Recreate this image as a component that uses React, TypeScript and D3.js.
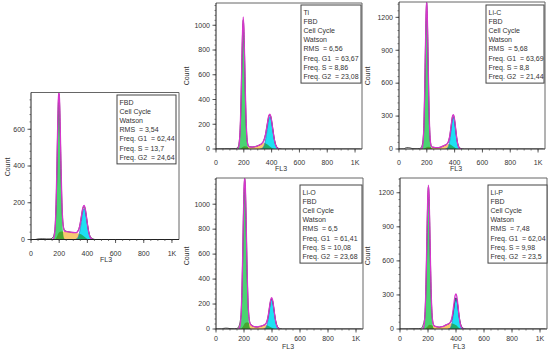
import React from 'react';
import * as d3 from 'd3';

type Pt = [number, number];

// x axis (FL3 channel)
const xTicks = [0, 200, 400, 600, 800, 1000];
const xTickLabels = ['0', '200', '400', '600', '800', '1K'];

// ---- FBD (left) ----
const g1Fbd: Pt[] = [[154, 0], [162, 8], [168, 33], [173, 88], [178, 192], [183, 352], [188, 544], [193, 706], [198, 770], [203, 706], [208, 544], [213, 352], [218, 192], [223, 88], [228, 33], [234, 8], [242, 0]];
const sFbd: Pt[] = [[172, 0], [185, 18], [198, 38], [215, 44], [240, 44], [270, 41], [300, 38], [330, 34], [355, 28], [377, 17], [395, 6], [410, 0]];
const g2Fbd: Pt[] = [[317, 1], [327, 5], [337, 18], [345, 41], [353, 76], [361, 118], [369, 154], [377, 168], [385, 154], [393, 118], [401, 76], [409, 41], [417, 18], [427, 5], [440, 0]];
const fitFbd: Pt[] = [[154, 0], [162, 9], [168, 33], [173, 88], [178, 198], [183, 365], [188, 567], [193, 737], [198, 815], [203, 746], [208, 585], [213, 395], [218, 236], [223, 132], [228, 77], [234, 52], [242, 44], [260, 42], [280, 40], [300, 38], [320, 37], [337, 51], [345, 72], [353, 106], [361, 144], [369, 176], [377, 185], [385, 167], [393, 126], [401, 80], [409, 42], [417, 18], [427, 5], [440, 0]];
const rawFbd: Pt[] = [[0, 0], [30, 0], [50, 3], [80, 4], [110, 3], [135, 3], [148, 6], [158, 14], [165, 32], [172, 80], [178, 190], [183, 350], [188, 552], [193, 722], [198, 792], [203, 735], [208, 575], [213, 385], [218, 230], [223, 128], [230, 70], [240, 48], [260, 43], [280, 40], [300, 38], [320, 38], [337, 52], [345, 72], [353, 104], [361, 142], [369, 172], [377, 180], [385, 165], [393, 126], [401, 82], [409, 46], [417, 22], [427, 9], [440, 3], [455, 0], [1040, 0]];

// ---- Ti ----
const g1Ti: Pt[] = [[152, 0], [160, 8], [166, 34], [171, 97], [176, 227], [181, 440], [186, 706], [191, 937], [196, 1030], [201, 937], [206, 706], [211, 440], [216, 227], [221, 97], [226, 34], [232, 8], [240, 0]];
const sTi: Pt[] = [[175, 0], [190, 14], [205, 22], [230, 18], [260, 16], [290, 22], [320, 36], [345, 48], [365, 40], [385, 22], [405, 6], [420, 0]];
const g2Ti: Pt[] = [[318, 0], [328, 3], [338, 12], [348, 35], [356, 73], [364, 128], [372, 190], [380, 242], [388, 262], [396, 242], [404, 190], [412, 128], [420, 73], [428, 35], [438, 12], [448, 3], [458, 0]];
const fitTi: Pt[] = [[152, 0], [160, 8], [166, 34], [171, 97], [176, 228], [181, 441], [186, 715], [191, 949], [196, 1068], [201, 955], [206, 728], [211, 461], [216, 248], [221, 117], [226, 54], [232, 27], [240, 18], [260, 16], [290, 22], [318, 35], [328, 43], [338, 56], [348, 83], [356, 118], [364, 169], [372, 224], [380, 270], [388, 281], [396, 256], [404, 196], [412, 131], [420, 73], [428, 35], [438, 12], [448, 3], [458, 0]];
const rawTi: Pt[] = [[0, 0], [60, 2], [100, 2], [140, 3], [150, 6], [158, 14], [164, 36], [170, 95], [176, 225], [181, 440], [186, 710], [191, 945], [196, 1040], [201, 950], [206, 720], [211, 455], [216, 245], [221, 115], [226, 54], [232, 28], [240, 19], [260, 16], [290, 22], [318, 35], [328, 43], [338, 55], [348, 82], [356, 117], [364, 168], [372, 222], [380, 266], [388, 276], [396, 254], [404, 198], [412, 134], [420, 78], [428, 40], [438, 16], [448, 6], [460, 2], [475, 0], [1040, 0]];

// ---- Li-C ----
const g1LiC: Pt[] = [[155, 0], [163, 4], [169, 22], [174, 77], [179, 213], [184, 472], [189, 832], [194, 1170], [199, 1310], [204, 1170], [209, 832], [214, 472], [219, 213], [224, 77], [229, 22], [235, 4], [243, 0]];
const sLiC: Pt[] = [[178, 0], [192, 12], [210, 20], [240, 14], [270, 12], [300, 18], [330, 34], [355, 46], [375, 36], [395, 18], [412, 4], [425, 0]];
const g2LiC: Pt[] = [[333, 0], [341, 2], [351, 13], [359, 39], [367, 94], [373, 154], [379, 219], [385, 270], [391, 290], [397, 270], [403, 219], [409, 154], [415, 94], [423, 39], [431, 13], [441, 2], [449, 0]];
const fitLiC: Pt[] = [[155, 0], [163, 4], [169, 22], [174, 77], [179, 213], [184, 474], [189, 837], [194, 1180], [199, 1360], [204, 1188], [209, 851], [214, 491], [219, 232], [224, 95], [229, 39], [235, 20], [243, 17], [260, 13], [280, 13], [300, 18], [320, 28], [333, 37], [341, 42], [351, 57], [359, 84], [367, 136], [373, 194], [379, 253], [385, 301], [391, 314], [397, 290], [403, 235], [409, 166], [415, 101], [423, 42], [431, 13], [441, 2], [449, 0]];
const rawLiC: Pt[] = [[0, 0], [35, 1], [45, 8], [55, 12], [70, 12], [85, 8], [100, 3], [130, 2], [148, 4], [158, 10], [165, 28], [172, 75], [179, 215], [184, 470], [189, 835], [194, 1175], [199, 1330], [204, 1180], [209, 845], [214, 485], [219, 228], [224, 95], [229, 40], [235, 21], [243, 16], [260, 13], [280, 13], [300, 18], [320, 28], [333, 36], [341, 41], [351, 55], [359, 82], [367, 133], [373, 190], [379, 250], [385, 296], [391, 308], [397, 285], [403, 232], [409, 166], [415, 104], [423, 48], [431, 20], [441, 7], [455, 2], [470, 0], [1040, 0]];

// ---- Li-O ----
const g1LiO: Pt[] = [[153, 0], [161, 2], [169, 13], [175, 52], [180, 134], [185, 293], [190, 538], [195, 831], [200, 1078], [205, 1175], [210, 1078], [215, 831], [220, 538], [225, 293], [230, 134], [235, 52], [241, 13], [249, 2], [256, 0]];
const sLiO: Pt[] = [[180, 0], [195, 25], [210, 50], [225, 55], [240, 40], [265, 22], [295, 16], [325, 24], [350, 32], [375, 25], [395, 12], [412, 3], [425, 0]];
const g2LiO: Pt[] = [[340, 0], [348, 3], [358, 15], [366, 41], [374, 89], [380, 137], [386, 187], [392, 225], [398, 240], [404, 225], [410, 187], [416, 137], [422, 89], [430, 41], [438, 15], [448, 3], [456, 0]];
const fitLiO: Pt[] = [[153, 0], [161, 2], [169, 13], [175, 52], [180, 134], [185, 298], [190, 551], [195, 856], [200, 1111], [205, 1220], [210, 1128], [215, 883], [220, 591], [225, 348], [230, 186], [235, 100], [241, 53], [249, 35], [256, 28], [265, 22], [280, 18], [295, 16], [310, 20], [325, 24], [340, 30], [348, 35], [358, 46], [366, 70], [374, 114], [380, 159], [386, 206], [392, 239], [398, 251], [404, 233], [410, 192], [416, 139], [422, 90], [430, 41], [438, 15], [448, 3], [456, 0]];
const rawLiO: Pt[] = [[0, 0], [40, 1], [55, 5], [70, 7], [85, 6], [100, 3], [130, 2], [148, 4], [158, 10], [166, 28], [173, 60], [180, 135], [185, 295], [190, 545], [195, 850], [200, 1100], [205, 1200], [210, 1120], [215, 878], [220, 586], [225, 345], [230, 184], [235, 99], [241, 54], [249, 36], [256, 28], [265, 22], [280, 18], [295, 16], [310, 20], [325, 24], [340, 30], [348, 35], [358, 46], [366, 69], [374, 112], [380, 156], [386, 202], [392, 234], [398, 244], [404, 228], [410, 190], [416, 140], [422, 94], [430, 48], [438, 22], [448, 8], [460, 3], [475, 0], [1040, 0]];

// ---- Li-P ----
const g1LiP: Pt[] = [[159, 0], [167, 9], [173, 41], [178, 116], [183, 272], [188, 527], [193, 846], [198, 1124], [203, 1235], [208, 1124], [213, 846], [218, 527], [223, 272], [228, 116], [233, 41], [239, 9], [247, 0]];
const sLiP: Pt[] = [[180, 0], [195, 20], [210, 38], [225, 34], [250, 22], [280, 16], [310, 24], [335, 40], [360, 50], [385, 44], [405, 30], [420, 10], [432, 0]];
const g2LiP: Pt[] = [[342, 0], [350, 2], [360, 12], [368, 37], [376, 90], [382, 147], [388, 208], [394, 257], [400, 276], [406, 257], [412, 208], [418, 147], [424, 90], [432, 37], [440, 12], [450, 2], [458, 0]];
const fitLiP: Pt[] = [[159, 0], [167, 9], [173, 41], [178, 116], [183, 273], [188, 533], [193, 859], [198, 1147], [203, 1268], [208, 1159], [213, 884], [218, 564], [223, 307], [228, 149], [233, 72], [239, 38], [247, 25], [265, 19], [280, 16], [295, 20], [310, 24], [325, 34], [342, 43], [350, 48], [360, 62], [368, 85], [376, 136], [382, 192], [388, 250], [394, 296], [400, 310], [406, 286], [412, 230], [418, 161], [424, 97], [432, 37], [440, 12], [450, 2], [458, 0]];
const rawLiP: Pt[] = [[0, 0], [60, 1], [100, 2], [135, 2], [148, 5], [158, 12], [166, 38], [173, 70], [178, 125], [183, 275], [188, 528], [193, 850], [198, 1135], [203, 1250], [208, 1150], [213, 876], [218, 558], [223, 303], [228, 148], [233, 72], [239, 40], [247, 26], [265, 19], [280, 16], [295, 20], [310, 24], [325, 34], [342, 42], [350, 47], [360, 58], [368, 78], [376, 120], [382, 168], [388, 218], [394, 258], [400, 274], [406, 258], [412, 214], [418, 156], [424, 100], [432, 50], [440, 22], [450, 8], [462, 2], [478, 0], [1040, 0]];

// legend texts
const legendFbd = ['FBD', 'Cell Cycle', 'Watson', 'RMS  = 3,54', 'Freq. G1  = 62,44', 'Freq. S = 13,7', 'Freq. G2  = 24,64'];
const legendTi = ['Ti', 'FBD', 'Cell Cycle', 'Watson', 'RMS  = 6,56', 'Freq. G1  = 63,67', 'Freq. S = 8,86', 'Freq. G2  = 23,08'];
const legendLiC = ['Li-C', 'FBD', 'Cell Cycle', 'Watson', 'RMS  = 5,68', 'Freq. G1  = 63,69', 'Freq. S = 8,8', 'Freq. G2  = 21,44'];
const legendLiO = ['Li-O', 'FBD', 'Cell Cycle', 'Watson', 'RMS  = 6,5', 'Freq. G1  = 61,41', 'Freq. S = 10,08', 'Freq. G2  = 23,68'];
const legendLiP = ['Li-P', 'FBD', 'Cell Cycle', 'Watson', 'RMS  = 7,48', 'Freq. G1  = 62,04', 'Freq. S = 9,98', 'Freq. G2  = 23,5'];

// y ticks
const yTicksFbd = [0, 200, 400, 600];
const yTicksTi = [0, 200, 400, 600, 800, 1000];
const yTicksLiC = [0, 300, 600, 900, 1200];
const yTicksLiO = [0, 200, 400, 600, 800, 1000];
const yTicksLiP = [0, 300, 600, 900, 1200];

const FONT = 'Liberation Sans, Arial, sans-serif';
const TXT = '#333';

interface PanelDef {
  id: string;
  g1: Pt[]; s: Pt[]; g2: Pt[]; fit: Pt[]; raw: Pt[];
  legend: string[];
  yTicks: number[];
  yMax: number;
  minorStep: number;
  x0: number; x1: number; top: number; bottom: number;
  box: { x: number; y: number; w: number };
  count: [number, number];
  fl3: [number, number];
  tickLabelDy: number;
}

const panels: PanelDef[] = [
  {
    id: 'fbd', g1: g1Fbd, s: sFbd, g2: g2Fbd, fit: fitFbd, raw: rawFbd, legend: legendFbd,
    yTicks: yTicksFbd, yMax: 800, minorStep: 40,
    x0: 31, x1: 179, top: 92.5, bottom: 239.5,
    box: { x: 117, y: 95, w: 59 }, count: [8, 167], fl3: [106, 262], tickLabelDy: 16,
  },
  {
    id: 'ti', g1: g1Ti, s: sTi, g2: g2Ti, fit: fitTi, raw: rawTi, legend: legendTi,
    yTicks: yTicksTi, yMax: 1180, minorStep: 40,
    x0: 216, x1: 362, top: 3, bottom: 149,
    box: { x: 301, y: 5, w: 60 }, count: [187, 76], fl3: [281, 171], tickLabelDy: 16,
  },
  {
    id: 'lic', g1: g1LiC, s: sLiC, g2: g2LiC, fit: fitLiC, raw: rawLiC, legend: legendLiC,
    yTicks: yTicksLiC, yMax: 1340, minorStep: 60,
    x0: 399, x1: 545, top: 2, bottom: 149,
    box: { x: 486, y: 5, w: 58 }, count: [368, 76], fl3: [456, 171], tickLabelDy: 16,
  },
  {
    id: 'lio', g1: g1LiO, s: sLiO, g2: g2LiO, fit: fitLiO, raw: rawLiO, legend: legendLiO,
    yTicks: yTicksLiO, yMax: 1210, minorStep: 40,
    x0: 216, x1: 363, top: 178, bottom: 329,
    box: { x: 300, y: 185, w: 62 }, count: [187, 256], fl3: [288, 349], tickLabelDy: 12,
  },
  {
    id: 'lip', g1: g1LiP, s: sLiP, g2: g2LiP, fit: fitLiP, raw: rawLiP, legend: legendLiP,
    yTicks: yTicksLiP, yMax: 1330, minorStep: 60,
    x0: 400, x1: 547, top: 178, bottom: 329,
    box: { x: 488, y: 185, w: 59 }, count: [368, 256], fl3: [459, 349], tickLabelDy: 12,
  },
];

const Panel: React.FC<{ p: PanelDef }> = ({ p }) => {
  const x = d3.scaleLinear().domain([0, 1050]).range([p.x0, p.x1]);
  const y = d3.scaleLinear().domain([0, p.yMax]).range([p.bottom, p.top]);
  const area = d3.area<Pt>().x(d => x(d[0])).y0(y(0)).y1(d => y(d[1])).curve(d3.curveMonotoneX);
  const line = d3.line<Pt>().x(d => x(d[0])).y(d => y(d[1])).curve(d3.curveMonotoneX);
  const clip = `clip-${p.id}`;
  const xMinor = d3.range(0, 1001, 50);
  const yMinor = d3.range(0, p.yMax, p.minorStep);
  const lineH = 9.2;
  const boxH = p.legend.length * lineH + 4.5;

  return (
    <g>
      <defs>
        <clipPath id={clip}>
          <rect x={p.x0} y={p.top} width={p.x1 - p.x0} height={p.bottom - p.top} />
        </clipPath>
      </defs>
      <g clipPath={`url(#${clip})`}>
        <path d={area(p.g1) ?? ''} fill="#4ad472" />
        <path d={area(p.g2) ?? ''} fill="#1ee0f2" />
        <path d={area(p.s) ?? ''} fill="#f8c870" style={{ mixBlendMode: 'multiply' }} />
        <path d={line(p.g2) ?? ''} fill="none" stroke="#3a68c8" strokeWidth={0.7} />
        <path d={line(p.raw) ?? ''} fill="none" stroke="#1a1a1a" strokeWidth={0.8} />
        <path d={line(p.fit) ?? ''} fill="none" stroke="#d636cc" strokeWidth={1.3} />
      </g>
      {/* frame */}
      <path d={`M${p.x0},${p.top}H${p.x1}V${p.bottom}`} fill="none" stroke="#666" strokeWidth={1} />
      <line x1={p.x0} x2={p.x0} y1={p.top} y2={p.bottom} stroke="#222" strokeWidth={1} />
      <line x1={p.x0} x2={p.x1} y1={p.bottom} y2={p.bottom} stroke="#222" strokeWidth={1} />
      {/* y ticks */}
      {yMinor.map(v => (
        <line key={`ym${v}`} x1={p.x0 - 1.5} x2={p.x0} y1={y(v)} y2={y(v)} stroke="#444" strokeWidth={0.7} />
      ))}
      {p.yTicks.map(v => (
        <g key={`y${v}`}>
          <line x1={p.x0 - 3.5} x2={p.x0} y1={y(v)} y2={y(v)} stroke="#333" strokeWidth={0.8} />
          <text x={p.x0 - 6} y={y(v)} dy="0.33em" textAnchor="end" fontSize={7} fontFamily={FONT} fill={TXT}>{v}</text>
        </g>
      ))}
      {/* x ticks */}
      {xMinor.map(v => (
        <line key={`xm${v}`} x1={x(v)} x2={x(v)} y1={p.bottom} y2={p.bottom + 1.5} stroke="#444" strokeWidth={0.7} />
      ))}
      {xTicks.map((v, i) => (
        <g key={`x${v}`}>
          <line x1={x(v)} x2={x(v)} y1={p.bottom} y2={p.bottom + 3.5} stroke="#333" strokeWidth={0.8} />
          <text x={x(v)} y={p.bottom + p.tickLabelDy} textAnchor="middle" fontSize={7} fontFamily={FONT} fill={TXT}>{xTickLabels[i]}</text>
        </g>
      ))}
      <text x={p.fl3[0]} y={p.fl3[1]} textAnchor="middle" fontSize={7} fontFamily={FONT} fill={TXT}>FL3</text>
      <text transform={`translate(${p.count[0]},${p.count[1]}) rotate(-90)`} textAnchor="middle" dy="0.35em" fontSize={7} fontFamily={FONT} fill={TXT}>Count</text>
      {/* legend */}
      <rect x={p.box.x} y={p.box.y} width={p.box.w} height={boxH} fill="#fff" stroke="#444" strokeWidth={1} />
      {p.legend.map((t, i) => (
        <text key={t} x={p.box.x + 2.5} y={p.box.y + 9.5 + i * lineH} fontSize={7} fontFamily={FONT} fill={TXT} style={{ whiteSpace: 'pre' }}>{t}</text>
      ))}
    </g>
  );
};

export default function App() {
  return (
    <svg width={550} height={352} style={{ position: 'absolute', left: 0, top: 0, background: '#fff' }}>
      {panels.map(p => <Panel key={p.id} p={p} />)}
    </svg>
  );
}
